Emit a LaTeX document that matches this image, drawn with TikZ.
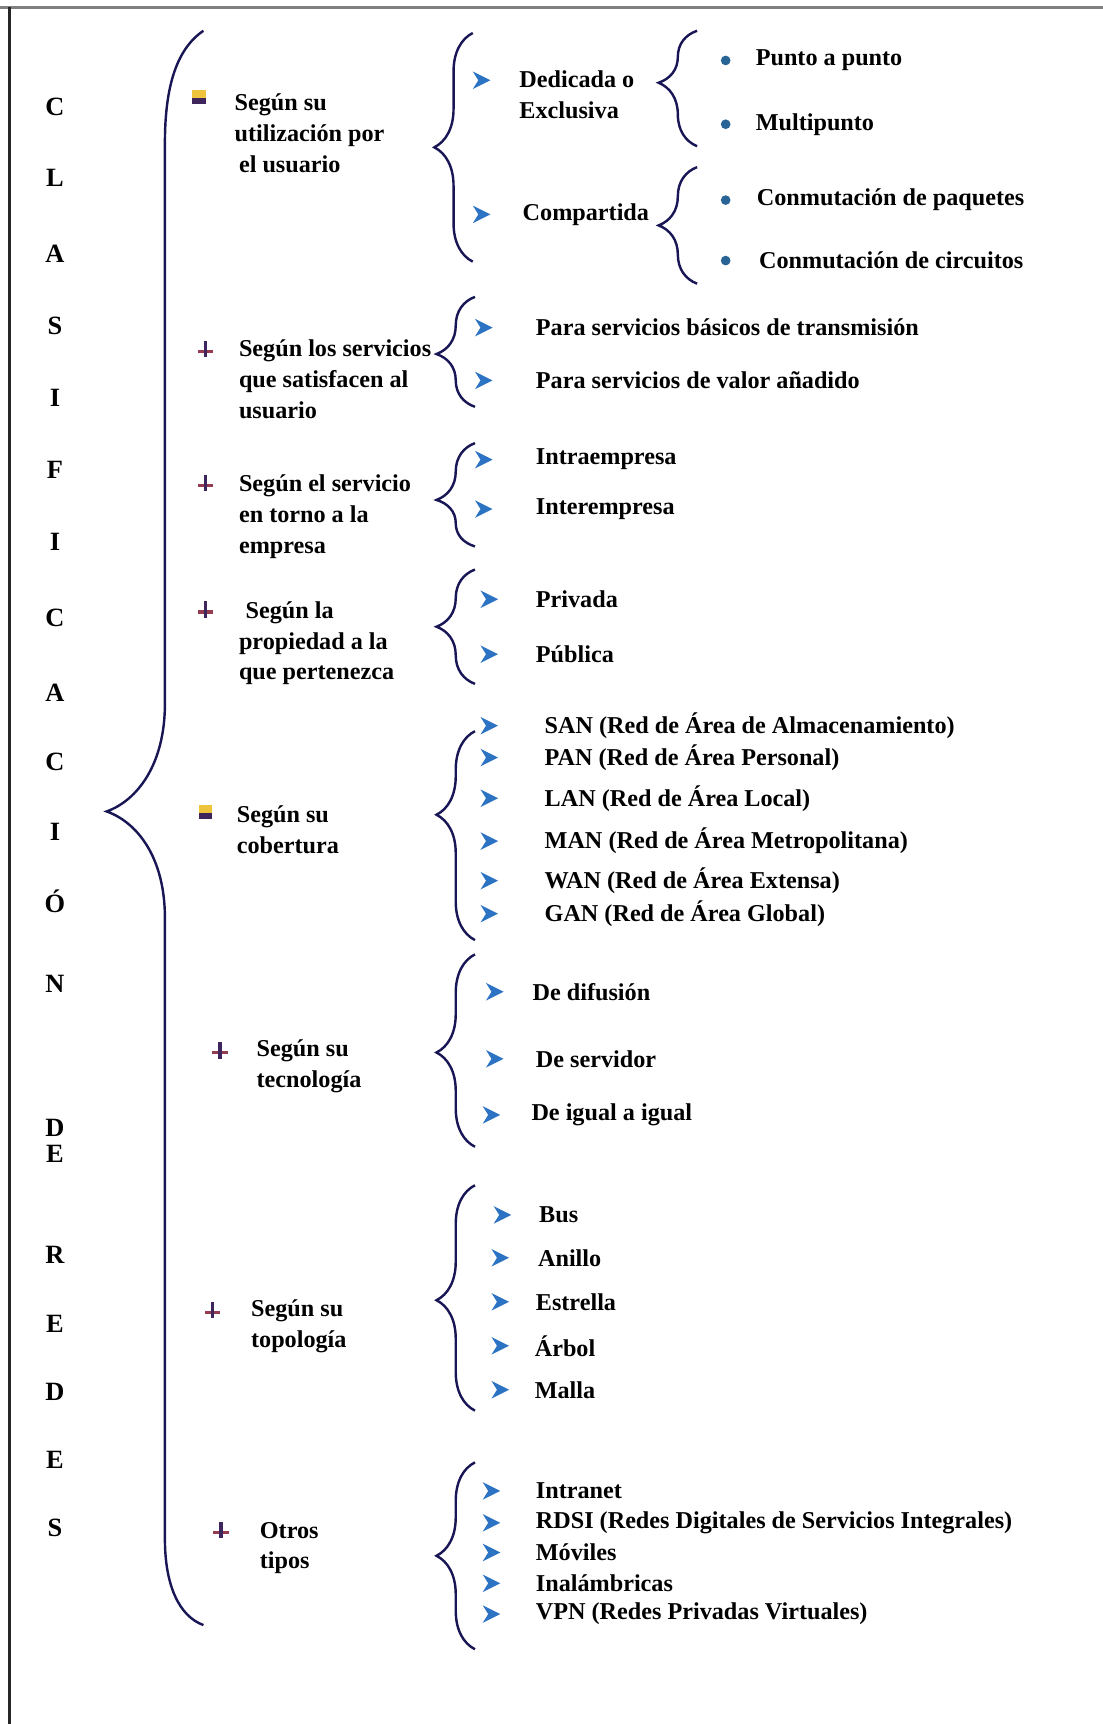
\documentclass[tikz,border=0pt]{standalone}
\usepackage{xcolor}
\usepackage{fontspec}
\setmainfont{Liberation Serif}
\usepackage{tikz}
\usetikzlibrary{positioning,decorations.pathreplacing}

\definecolor{bracenavy}{RGB}{24,22,84}
\definecolor{chevblue}{RGB}{45,115,195}
\definecolor{dotblue}{RGB}{40,100,150}
\definecolor{markpurple}{RGB}{62,38,92}
\definecolor{markred}{RGB}{150,60,80}
\definecolor{markyellow}{RGB}{238,196,60}

\begin{document}
\begin{tikzpicture}[x=0.5pt, y=-0.5pt,
	lbl/.style={font=\fontsize{11}{14}\selectfont\bfseries, inner sep=0pt, anchor=west, align=left},
	letter/.style={font=\fontsize{12}{14}\selectfont\bfseries, inner sep=0pt},
	bigbrace/.style={draw=bracenavy, line width=1.1pt},
	subbrace/.style={draw=bracenavy, line width=1.1pt, decorate, decoration={brace, amplitude=17.5pt, aspect=#1}},
	subbrace/.default=0.5,
	pics/chev/.style={code={\fill[chevblue] (-8,-8) -- (8,0) -- (-8,8) -- (-3,0) -- cycle;}},
	pics/dotbul/.style={code={\fill[dotblue] (0,0) circle (2.2pt);}},
	pics/crossbul/.style={code={\fill[markred] (-7,0) rectangle (7,3); \fill[markpurple] (-1.5,-8) rectangle (1.5,7);}},
	pics/sqbul/.style={code={\fill[markyellow] (-6,-7) rectangle (6,0); \fill[markpurple] (-6,0) rectangle (6,6);}}]
	\useasboundingbox (0,0) rectangle (1003,1568);
	\draw[gray, line width=1.2pt] (0,7) -- (1003,7);
	\draw[black!85, line width=1.3pt] (9,6) -- (9,1568);

	\foreach \ch/\yy [count=\i] in {C/97, L/162, A/231, S/296, I/362, F/427, I/493, C/562, A/630, C/693, I/757, Ó/820, N/895, D/1026, E/1049, R/1141, E/1204, D/1266, E/1328, S/1390}
		\node[letter] (let\i) at (50,\yy) {\ch};

	\coordinate (bigtop) at (185,28);
	\coordinate (bigtip) at (97,738);
	\coordinate (bigbot) at (185,1478);
	\draw[bigbrace] (bigtop) .. controls (160,45) and (150,80) .. (150,130) -- (150,640)
		.. controls (150,695) and (125,728) .. (bigtip) .. controls (125,748) and (150,780) .. (150,835)
		-- (150,1400) .. controls (150,1442) and (163,1470) .. (bigbot);

	\pic at (181,89) {sqbul};
	\node[lbl] (util) at (213,121) {Según su\\utilización por\\\hspace{2pt}el usuario};
	\pic at (187,318) {crossbul};
	\node[lbl] (serv) at (217,345) {Según los servicios\\que satisfacen al\\usuario};
	\pic at (187,440) {crossbul};
	\node[lbl] (emp) at (217,470) {Según el servicio\\en torno a la\\empresa};
	\pic at (187,555) {crossbul};
	\node[lbl] (prop) at (217,585) {\hspace{3pt}Según la\\propiedad a la\\que pertenezca};
	\pic at (187,739) {sqbul};
	\node[lbl] (cob) at (215,755) {Según su\\cobertura};
	\pic at (200,956) {crossbul};
	\node[lbl] (tec) at (233,970) {Según su\\tecnología};
	\pic at (193,1192) {crossbul};
	\node[lbl] (topo) at (228,1206) {Según su\\topología};
	\pic at (201,1392) {crossbul};
	\node[lbl] (otros) at (236,1408) {Otros\\tipos};

	\coordinate (brA-t) at (430,30);
	\coordinate (brA-b) at (430,238);
	\draw[subbrace] (brA-b) -- (brA-t);
	\pic at (438,73) {chev};
	\node[lbl] (ded) at (472,86) {Dedicada o\\Exclusiva};
	\pic at (438,195) {chev};
	\node[lbl] (comp) at (475,195) {Compartida};

	\coordinate (brB-t) at (634,28);
	\coordinate (brB-b) at (634,133);
	\draw[subbrace=0.55] (brB-b) -- (brB-t);
	\pic at (660,55) {dotbul};
	\node[lbl] (pap) at (687,55) {Punto a punto};
	\pic at (660,113) {dotbul};
	\node[lbl] (multi) at (687,113) {Multipunto};

	\coordinate (brC-t) at (634,152);
	\coordinate (brC-b) at (634,258);
	\draw[subbrace] (brC-b) -- (brC-t);
	\pic at (660,182) {dotbul};
	\node[lbl] (paq) at (688,182) {Conmutación de paquetes};
	\pic at (660,237) {dotbul};
	\node[lbl] (circ) at (690,237) {Conmutación de circuitos};

	\coordinate (br2-t) at (432,270);
	\coordinate (br2-b) at (432,370);
	\draw[subbrace=0.48] (br2-b) -- (br2-t);
	\pic at (440,298) {chev};
	\node[lbl] (basic) at (487,298) {Para servicios básicos de transmisión};
	\pic at (440,346) {chev};
	\node[lbl] (valor) at (487,346) {Para servicios de valor añadido};

	\coordinate (br3-t) at (432,403);
	\coordinate (br3-b) at (432,497);
	\draw[subbrace=0.45] (br3-b) -- (br3-t);
	\pic at (440,418) {chev};
	\node[lbl] (intra) at (487,418) {Intraempresa};
	\pic at (440,463) {chev};
	\node[lbl] (inter) at (487,463) {Interempresa};

	\coordinate (br4-t) at (432,518);
	\coordinate (br4-b) at (432,622);
	\draw[subbrace] (br4-b) -- (br4-t);
	\pic at (445,545) {chev};
	\node[lbl] (priv) at (487,545) {Privada};
	\pic at (445,595) {chev};
	\node[lbl] (pub) at (487,595) {Pública};

	\coordinate (br5-t) at (432,665);
	\coordinate (br5-b) at (432,855);
	\draw[subbrace=0.6] (br5-b) -- (br5-t);
	\pic at (445,660) {chev};
	\node[lbl] (san) at (495,660) {SAN (Red de Área de Almacenamiento)};
	\pic at (445,689) {chev};
	\node[lbl] (pan) at (495,689) {PAN (Red de Área Personal)};
	\pic at (445,726) {chev};
	\node[lbl] (lan) at (495,726) {LAN (Red de Área Local)};
	\pic at (445,765) {chev};
	\node[lbl] (man) at (495,765) {MAN (Red de Área Metropolitana)};
	\pic at (445,801) {chev};
	\node[lbl] (wan) at (495,801) {WAN (Red de Área Extensa)};
	\pic at (445,831) {chev};
	\node[lbl] (gan) at (495,831) {GAN (Red de Área Global)};

	\coordinate (br6-t) at (432,868);
	\coordinate (br6-b) at (432,1043);
	\draw[subbrace=0.49] (br6-b) -- (br6-t);
	\pic at (450,902) {chev};
	\node[lbl] (dif) at (484,902) {De difusión};
	\pic at (450,963) {chev};
	\node[lbl] (srv) at (487,963) {De servidor};
	\pic at (447,1014) {chev};
	\node[lbl] (igual) at (483,1014) {De igual a igual};

	\coordinate (br7-t) at (432,1078);
	\coordinate (br7-b) at (432,1283);
	\draw[subbrace=0.49] (br7-b) -- (br7-t);
	\pic at (457,1105) {chev};
	\node[lbl] (bus) at (490,1105) {Bus};
	\pic at (455,1144) {chev};
	\node[lbl] (anillo) at (489,1144) {Anillo};
	\pic at (455,1184) {chev};
	\node[lbl] (estrella) at (487,1184) {Estrella};
	\pic at (455,1224) {chev};
	\node[lbl] (arbol) at (486,1224) {Árbol};
	\pic at (455,1264) {chev};
	\node[lbl] (malla) at (486,1264) {Malla};

	\coordinate (br8-t) at (432,1330);
	\coordinate (br8-b) at (432,1500);
	\draw[subbrace] (br8-b) -- (br8-t);
	\pic at (447,1356) {chev};
	\node[lbl] (intranet) at (487,1356) {Intranet};
	\pic at (447,1385) {chev};
	\node[lbl] (rdsi) at (487,1385) {RDSI (Redes Digitales de Servicios Integrales)};
	\pic at (447,1412) {chev};
	\node[lbl] (mov) at (487,1412) {Móviles};
	\pic at (447,1440) {chev};
	\node[lbl] (inal) at (487,1440) {Inalámbricas};
	\pic at (447,1468) {chev};
	\node[lbl] (vpn) at (487,1468) {VPN (Redes Privadas Virtuales)};
\end{tikzpicture}
\end{document}
